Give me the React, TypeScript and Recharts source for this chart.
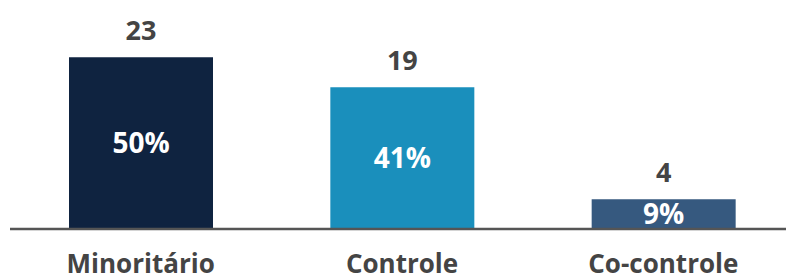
import { Bar, BarChart, Cell, LabelList, XAxis, YAxis } from "recharts";

const categories = ["Minoritário", "Controle", "Co-controle"];
const counts = [23, 19, 4];
const shares = ["50%", "41%", "9%"];
const colors = ["#0f2340", "#1a8fbc", "#36597f"];

const data = categories.map((name, i) => ({ name, count: counts[i], share: shares[i] }));

const FONT = "'Open Sans', sans-serif";

export default function App() {
  return (
    <div style={{ width: 786, height: 275 }}>
      <style>{"body{margin:0}"}</style>
      <BarChart
        width={786}
        height={275}
        data={data}
        margin={{ top: 5, right: 0, bottom: 0, left: 10 }}
        barSize={144}
      >
        <XAxis
          dataKey="name"
          height={46}
          padding={{ left: 0, right: -8 }}
          axisLine={{ stroke: "#555555", strokeWidth: 2.5 }}
          tickLine={false}
          tickSize={0}
          tickMargin={26}
          tick={{ fill: "#444444", fontSize: 26, fontWeight: 700, fontFamily: FONT }}
          interval={0}
        />
        <YAxis hide domain={[0, 30]} />
        <Bar dataKey="count" isAnimationActive={false}>
          {data.map((d, i) => (
            <Cell key={d.name} fill={colors[i]} />
          ))}
          <LabelList
            dataKey="count"
            position="top"
            offset={17}
            fill="#444444"
            fontSize={27}
            fontWeight={700}
            fontFamily={FONT}
          />
          <LabelList
            dataKey="share"
            position="center"
            fill="#ffffff"
            fontSize={28}
            fontWeight={700}
            fontFamily={FONT}
          />
        </Bar>
      </BarChart>
    </div>
  );
}
